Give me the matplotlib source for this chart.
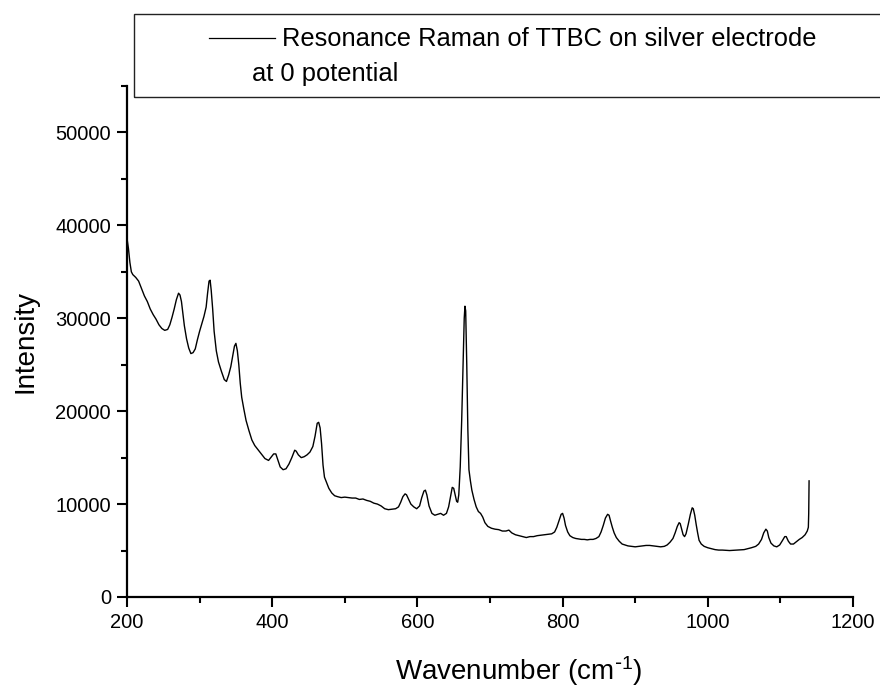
import matplotlib.pyplot as plt
from matplotlib.patches import Rectangle
from matplotlib.lines import Line2D
from matplotlib.ticker import MultipleLocator

plt.rcParams['font.family'] = ['Liberation Sans', 'DejaVu Sans']
plt.rcParams['mathtext.default'] = 'regular'

# spectrum (wavenumber, intensity)
wavenumber = [
    200, 202, 204, 206, 208, 212, 216, 220, 224, 228, 232, 236, 240, 244, 248,
    252, 256, 259, 262, 265, 268, 271, 273, 275, 277, 279, 282, 285, 288, 291,
    294, 297, 300, 303, 306, 309, 311, 313, 314.5, 316, 318, 320, 323, 326, 330,
    334, 337, 340, 343, 346, 348, 350, 352, 354, 356, 358, 361, 364, 368, 372,
    376, 381, 386, 390, 395, 399, 402, 405, 408, 411, 415, 419, 423, 427, 431,
    433, 436, 440, 444, 448, 452, 456, 459, 462, 464, 466, 468, 470, 472, 475,
    478, 482, 486, 490, 495, 500, 505, 510, 515, 520, 525, 530, 535, 540, 545,
    550, 555, 560, 565, 570, 574, 577, 580, 583, 585, 588, 591, 595, 599, 603,
    606, 609, 611, 613, 616, 620, 624, 628, 632, 636, 640, 643, 646, 648, 650,
    652, 654, 655.5, 657, 659, 661, 663, 664.5, 665.5, 666.5, 668, 669.5, 671,
    673, 675, 678, 681, 684, 687, 690, 693, 697, 702, 707, 712, 717, 722, 726,
    730, 735, 740, 745, 750, 755, 760, 765, 770, 775, 780, 785, 789, 792, 795,
    798, 800, 802, 804, 807, 810, 814, 818, 822, 826, 830, 834, 838, 842, 846,
    850, 853, 856, 859, 862, 864, 866, 868.5, 871, 874, 878, 882, 886, 890, 895,
    900, 905, 910, 915, 920, 925, 930, 935, 940, 944, 948, 952, 955, 958, 960.5,
    962, 964, 966, 968, 970, 973, 976, 978.5, 980, 982, 984, 986, 988, 991, 995,
    1000, 1005, 1010, 1015, 1020, 1030, 1040, 1050, 1060, 1066, 1070, 1074, 1077,
    1080, 1082, 1084, 1087, 1091, 1095, 1099, 1103, 1106, 1108, 1111, 1114, 1118,
    1122, 1126, 1130, 1134, 1137, 1138.5, 1139, 1139.5,
]
intensity = [
    38600, 37500, 36000, 35000, 34700, 34400, 34000, 33200, 32400, 31800, 31000,
    30400, 29900, 29300, 28900, 28700, 28800, 29300, 30100, 31000, 32000, 32700,
    32500, 31800, 30500, 29200, 27800, 26800, 26200, 26300, 26700, 27700, 28600,
    29400, 30200, 31200, 32700, 34000, 34100, 33000, 31000, 28600, 26500, 25300,
    24300, 23400, 23200, 23900, 24800, 26100, 27000, 27300, 26500, 25000, 23000,
    21500, 20200, 19000, 17900, 16900, 16300, 15800, 15300, 14900, 14700, 15100,
    15400, 15400, 14700, 14000, 13700, 13800, 14300, 15000, 15800, 15700, 15300,
    15000, 15100, 15300, 15600, 16200, 17300, 18700, 18800, 18200, 16500, 14200,
    12900, 12300, 11700, 11200, 10900, 10800, 10700, 10750, 10700, 10650, 10650,
    10500, 10550, 10400, 10300, 10100, 10000, 9800, 9500, 9400, 9450, 9500, 9700,
    10200, 10800, 11100, 11000, 10500, 10000, 9700, 9500, 9800, 10700, 11400,
    11500, 11000, 9800, 9000, 8800, 8900, 9000, 8800, 9000, 9700, 11000, 11800,
    11700, 11000, 10300, 10200, 11000, 14000, 19000, 25500, 30000, 31300, 30800,
    25000, 18000, 13700, 12500, 11500, 10500, 9700, 9200, 9000, 8600, 8000, 7600,
    7400, 7300, 7250, 7100, 7100, 7200, 6900, 6700, 6600, 6500, 6400, 6500, 6500,
    6600, 6650, 6700, 6750, 6800, 7000, 7500, 8200, 8900, 9000, 8500, 7700, 7000,
    6600, 6400, 6300, 6250, 6200, 6200, 6150, 6200, 6200, 6300, 6500, 7000, 7700,
    8500, 8900, 8800, 8200, 7500, 6900, 6400, 6000, 5700, 5600, 5500, 5450, 5400,
    5450, 5500, 5550, 5550, 5500, 5450, 5400, 5450, 5600, 5900, 6300, 6900, 7600,
    8000, 7900, 7300, 6700, 6500, 6800, 7800, 8900, 9600, 9500, 8800, 7800, 6900,
    6100, 5700, 5450, 5300, 5200, 5100, 5050, 5050, 5000, 5050, 5100, 5300, 5450,
    5700, 6200, 6900, 7300, 7100, 6400, 5800, 5500, 5400, 5600, 6100, 6500, 6500,
    6000, 5700, 5700, 5950, 6200, 6400, 6700, 7100, 7500, 9000, 12500,
]

legend_line1 = "Resonance Raman of TTBC on silver electrode"
legend_line2 = "at 0 potential"

W, H = 880, 688
fig = plt.figure(figsize=(W / 100, H / 100), dpi=100)
ax = fig.add_axes([127 / W, 1 - 597 / H, 726 / W, 511 / H])

ax.plot(wavenumber, intensity, color='black', linewidth=1.0)

ax.set_xlim(200, 1200)
ax.set_ylim(0, 55000)
ax.xaxis.set_major_locator(MultipleLocator(200))
ax.xaxis.set_minor_locator(MultipleLocator(100))
ax.yaxis.set_major_locator(MultipleLocator(10000))
ax.yaxis.set_minor_locator(MultipleLocator(5000))

for side in ['top', 'right']:
    ax.spines[side].set_visible(False)
for side in ['left', 'bottom']:
    ax.spines[side].set_linewidth(1.6)

ax.tick_params(which='major', direction='out', length=7.5, width=1.5,
               labelsize=14.5, pad=4)
ax.tick_params(which='minor', direction='out', length=4.5, width=1.5)

ax.set_xlabel(r'Wavenumber (cm$^{\text{-}1}$)', fontsize=20, va='baseline')
ax.xaxis.set_label_coords(392 / 726, -83 / 511)
ax.set_ylabel('Intensity', fontsize=20, va='center')
ax.yaxis.set_label_coords(-102 / 726, 0.5)

# legend box drawn by hand (line on first row, text wraps to second row)
fig.add_artist(Rectangle((134 / W, 1 - 97 / H), 1.0, 83 / H,
                         transform=fig.transFigure, fill=False,
                         edgecolor='#222222', linewidth=1.0))
fig.add_artist(Line2D([209 / W, 275 / W], [1 - 38 / H, 1 - 38 / H],
                      transform=fig.transFigure, color='black', linewidth=0.9))
fig.text(282 / W, 1 - 46.5 / H, legend_line1, fontsize=18.4, va='baseline')
fig.text(252 / W, 1 - 81 / H, legend_line2, fontsize=18.4, va='baseline')

fig.savefig('out.png', dpi=100)
plt.close(fig)
